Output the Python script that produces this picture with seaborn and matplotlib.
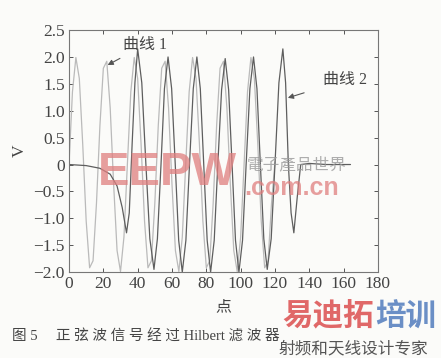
import matplotlib
matplotlib.use("Agg")
import matplotlib.pyplot as plt
import seaborn as sns
import pandas as pd

# Curve 1: input sine wave (light gray)
x1 = [0, 2, 4, 6, 8, 10, 12, 14, 16, 18, 20, 22, 24, 26, 28, 30, 32,
      34, 36, 38, 40, 42, 44, 46, 48, 50, 52, 54, 56, 58, 60, 62, 64, 66,
      68, 70, 72, 74, 76, 78, 80, 82, 84, 86, 88, 90, 92, 94, 96, 98, 100,
      102, 104, 106, 108, 110, 112, 114, 116, 118, 120]
y1 = [0.00, 1.35, 1.99, 1.60, 0.37, -1.05, -1.92, -1.79, -0.72, 0.72, 1.79, 1.92, 1.05, -0.37, -1.60, -1.99, -1.35,
      0.00, 1.35, 1.99, 1.60, 0.37, -1.05, -1.92, -1.79, -0.72, 0.72, 1.79, 1.92, 1.05, -0.37, -1.60, -1.99, -1.35,
      0.00, 1.35, 1.99, 1.60, 0.37, -1.05, -1.92, -1.79, -0.72, 0.72, 1.79, 1.92, 1.05, -0.37, -1.60, -1.99, -1.35,
      0.00, 1.35, 1.99, 1.60, 0.37, -1.05, -1.92, -1.79, -0.72, 0.05]

# Curve 2: Hilbert filter output (dark gray)
x2 = [0, 10, 18, 24, 28, 31, 33.5, 35.1, 36.8, 38.4, 40,
      42.4, 44.8, 47.1, 49.5,
      51.5, 53.6, 55.6, 57.7,
      59.8, 61.9, 63.9, 66,
      68.1, 70.2, 72.4, 74.5,
      76.5, 78.5, 80.5, 82.5,
      84.6, 86.7, 88.9, 91,
      93, 95, 97, 99,
      101.1, 103.2, 105.4, 107.5,
      109.5, 111.5, 113.5, 115.5,
      117.8, 120, 122.3, 124.6,
      126.2, 127.8, 129.4, 131,
      133, 135, 140, 150, 164]
y2 = [0.00, -0.02, -0.07, -0.18, -0.40, -0.80, -1.27, -0.90, 0.40, 1.52, 2.15,
      1.52, 0.00, -1.38, -1.95,
      -1.38, 0.00, 1.41, 2.00,
      1.41, 0.00, -1.41, -2.00,
      -1.41, 0.00, 1.41, 2.00,
      1.41, 0.00, -1.41, -2.00,
      -1.41, 0.00, 1.39, 1.97,
      1.39, 0.00, -1.41, -2.00,
      -1.41, 0.00, 1.41, 2.00,
      1.41, 0.00, -1.38, -1.95,
      -1.38, 0.00, 1.52, 2.15,
      1.52, 0.00, -0.90, -1.27,
      -0.60, 0.00, 0.02, 0.00, 0.00]

xticks = [0, 20, 40, 60, 80, 100, 120, 140, 160, 180]
yticks = [-2.0, -1.5, -1.0, -0.5, 0, 0.5, 1.0, 1.5, 2.0, 2.5]
ytick_labels = ["\u22122.0", "\u22121.5", "\u22121.0", "\u22120.5", "0", "0.5", "1.0", "1.5", "2.0", "2.5"]

sns.set_style("ticks")
plt.rcParams['font.family'] = ['Liberation Serif', 'Noto Sans CJK SC', 'DejaVu Sans']
plt.rcParams['axes.unicode_minus'] = True

bg = "#fbfbf9"
fig = plt.figure(figsize=(4.41, 3.58), dpi=100)
fig.patch.set_facecolor(bg)
ax = fig.add_axes([0.1565, 0.240, 0.7005, 0.676])
ax.set_facecolor(bg)

df1 = pd.DataFrame({"x": x1, "y": y1})
df2 = pd.DataFrame({"x": x2, "y": y2})
sns.lineplot(data=df1, x="x", y="y", ax=ax, color="#bababa", linewidth=0.9, sort=False)
sns.lineplot(data=df2, x="x", y="y", ax=ax, color="#5e5e5e", linewidth=0.9, sort=False)

ax.set_xlim(0, 180)
ax.set_ylim(-2.0, 2.5)
ax.set_xticks(xticks)
ax.set_xticklabels([str(t) for t in xticks])
ax.set_yticks(yticks)
ax.set_yticklabels(ytick_labels)
ax.tick_params(direction="in", top=True, right=True, length=3, width=0.7,
               labelsize=12.5, colors="#555555", labelcolor="#444444", pad=3)
for s in ax.spines.values():
    s.set_color("#777777")
    s.set_linewidth(0.8)

ax.set_xlabel("点", fontsize=11.5, color="#444444", labelpad=5)
ax.set_ylabel("V", fontsize=12.5, color="#444444", labelpad=4)

ax.annotate("曲线 1", xy=(22.5, 1.85), xytext=(44, 2.22), fontsize=11.5, color="#444444",
            ha="center", va="center",
            arrowprops=dict(arrowstyle="-|>", color="#555555", lw=0.8, mutation_scale=8,
                            shrinkA=3, shrinkB=0))
ax.annotate("曲线 2", xy=(127.5, 1.24), xytext=(161, 1.57), fontsize=11.5, color="#444444",
            ha="center", va="center",
            arrowprops=dict(arrowstyle="-|>", color="#555555", lw=0.8, mutation_scale=8,
                            shrinkA=12, shrinkB=0))

# watermarks
fig.text(167 / 441, 1 - 173 / 358, "EEPW", fontsize=34, fontweight="bold", color="#e07f7f",
         alpha=0.75, ha="center", va="center", family=["Liberation Sans", "DejaVu Sans"])
fig.text(297 / 441, 1 - 165 / 358, "電子產品世界", fontsize=12, style="italic", color="#9a9a9a",
         ha="center", va="center", alpha=0.8)
fig.text(292 / 441, 1 - 188 / 358, ".com.cn", fontsize=18, fontweight="bold", color="#e07f7f",
         alpha=0.75, ha="center", va="center", family=["Liberation Sans", "DejaVu Sans"])

fig.text(12 / 441, 1 - 337 / 358, "图 5　 正 弦 波 信 号 经 过 Hilbert 滤 波 器", fontsize=10.5,
         color="#444444", ha="left", va="center")
fig.text(328 / 441, 1 - 318 / 358, "易迪拓", fontsize=22, fontweight="bold",
         color="#e06868", ha="center", va="center")
fig.text(406 / 441, 1 - 318 / 358, "培训", fontsize=22, fontweight="bold",
         color="#6b8fc6", ha="center", va="center")
fig.text(353 / 441, 1 - 349 / 358, "射频和天线设计专家", fontsize=12, color="#555555",
         ha="center", va="center")

fig.savefig("out.png", dpi=100, facecolor=fig.get_facecolor())
